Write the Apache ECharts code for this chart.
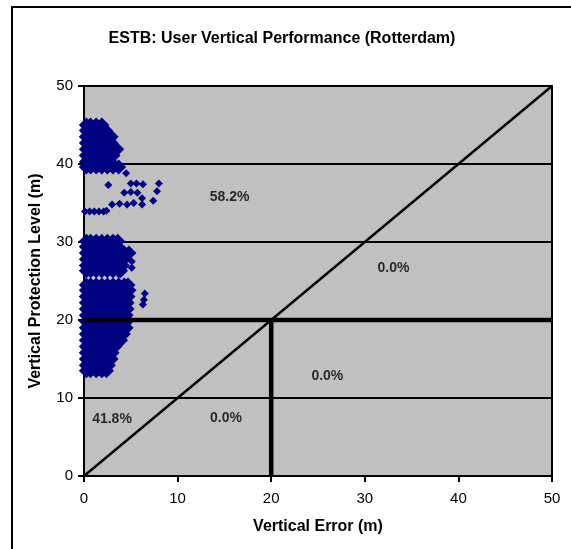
<!DOCTYPE html>
<html>
<head>
<meta charset="utf-8">
<script src="https://cdn.jsdelivr.net/npm/echarts@6/dist/echarts.min.js"></script>
<style>
html,body{margin:0;padding:0;background:#fff;}
#chart{width:571px;height:549px;}
</style>
</head>
<body>
<div id="chart"></div>
<script>
// Axis ticks
const xTicks = [0, 10, 20, 30, 40, 50];
const yTicks = [0, 10, 20, 30, 40, 50];

// Dense point clouds: [VPL (m), [vertical errors (m)]]
const topCluster = [
  [45.0, [0.25, 0.7, 1.3, 1.9]],
  [44.3, [0.25, 0.7, 1.3, 1.9, 2.3]],
  [43.5, [0.25, 0.7, 1.3, 1.9, 2.5, 2.9]],
  [42.7, [0.25, 0.7, 1.3, 1.9, 2.5, 2.9]],
  [41.9, [0.25, 0.7, 1.3, 1.9, 2.5, 3.1, 3.5]],
  [41.1, [0.25, 0.7, 1.3, 1.9, 2.5, 3.1]],
  [40.3, [0.25, 0.7, 1.3, 1.9, 2.5, 2.8]],
  [39.6, [0.25, 0.7, 1.3, 1.9, 2.5, 3.1, 3.7]]
];
const midCluster = [
  [30.1, [0.25, 0.7, 1.3, 1.9, 2.5, 3.1, 3.6]],
  [29.4, [0.25, 0.7, 1.3, 1.9, 2.5, 3.1, 3.6]],
  [28.6, [0.25, 0.7, 1.3, 1.9, 2.5, 3.1, 3.7, 4.3, 4.8]],
  [27.8, [0.25, 0.7, 1.3, 1.9, 2.5, 3.1, 3.7, 4.2]],
  [27.0, [0.25, 0.7, 1.3, 1.9, 2.5, 3.1, 3.7, 4.1]],
  [26.3, [0.25, 0.7, 1.3, 1.9, 2.5, 3.1, 3.7, 3.9]]
];
const lowCluster = [
  [24.5, [0.25, 0.7, 1.3, 1.9, 2.5, 3.1, 3.7, 4.3, 4.7]],
  [23.8, [0.25, 0.7, 1.3, 1.9, 2.5, 3.1, 3.7, 4.3, 4.8]],
  [23.0, [0.25, 0.7, 1.3, 1.9, 2.5, 3.1, 3.7, 4.3, 4.7]],
  [22.2, [0.25, 0.7, 1.3, 1.9, 2.5, 3.1, 3.7, 4.3, 4.6]],
  [21.4, [0.25, 0.7, 1.3, 1.9, 2.5, 3.1, 3.7, 4.3, 4.6]],
  [20.6, [0.25, 0.7, 1.3, 1.9, 2.5, 3.1, 3.7, 4.3, 4.5]],
  [19.8, [0.25, 0.7, 1.3, 1.9, 2.5, 3.1, 3.7, 4.3, 4.5]],
  [19.0, [0.25, 0.7, 1.3, 1.9, 2.5, 3.1, 3.7, 4.3, 4.5]],
  [18.2, [0.25, 0.7, 1.3, 1.9, 2.5, 3.1, 3.7, 4.2]],
  [17.4, [0.25, 0.7, 1.3, 1.9, 2.5, 3.1, 3.7, 3.9]],
  [16.6, [0.25, 0.7, 1.3, 1.9, 2.5, 3.1, 3.3]],
  [15.8, [0.25, 0.7, 1.3, 1.9, 2.5, 3.0]],
  [15.0, [0.25, 0.7, 1.3, 1.9, 2.5, 2.9]],
  [14.2, [0.25, 0.7, 1.3, 1.9, 2.5, 2.6]],
  [13.5, [0.25, 0.7, 1.3, 1.9, 2.4]]
];
// Sparse individual points [vertical error, VPL]
const sparsePoints = [
  [4.5, 38.8], [2.6, 37.3], [5.0, 37.5], [5.6, 37.5], [6.3, 37.4],
  [4.3, 36.3], [5.0, 36.4], [5.7, 36.3], [6.2, 35.6], [6.2, 34.8],
  [8.0, 37.5], [7.8, 36.5], [7.4, 35.3], [3.0, 34.8], [3.8, 34.9],
  [4.6, 34.8], [5.3, 35.0], [0.1, 33.9], [0.6, 33.9], [1.1, 33.9],
  [1.6, 33.9], [2.1, 33.9], [2.4, 34.0], [5.1, 27.5], [5.1, 26.7],
  [6.5, 23.4], [6.4, 22.6], [6.3, 22.0]
];

// Reference lines
const diagonalLine = [[0, 0], [50, 50]];
const alarmLimitH = [[0, 20], [50, 20]];
const alarmLimitV = [[20, 0], [20, 20]];

// Region percentages
const pctText = ['58.2%', '0.0%', '0.0%', '0.0%', '41.8%'];
const pctX = [15.55, 33.07, 26.0, 15.17, 2.99];
const pctY = [35.77, 26.67, 12.76, 7.37, 7.31];

const FONT = "'Liberation Sans', Arial, Helvetica, sans-serif";

function flatten(rows) {
  const out = [];
  rows.forEach(function (r) { r[1].forEach(function (x) { out.push([x, r[0]]); }); });
  return out;
}
const densePoints = flatten(topCluster).concat(flatten(midCluster), flatten(lowCluster));
const pctData = pctText.map(function (t, i) { return { name: t, value: [pctX[i], pctY[i]] }; });

const chart = echarts.init(document.getElementById('chart'), null, { renderer: 'canvas' });
chart.setOption({
  animation: false,
  backgroundColor: '#ffffff',
  title: {
    text: 'ESTB: User Vertical Performance (Rotterdam)',
    left: 282, top: 31, padding: 0, textAlign: 'center',
    textStyle: { fontFamily: FONT, fontSize: 16, fontWeight: 'bold', color: '#000' }
  },
  graphic: [{
    type: 'rect', silent: true, z: -10,
    shape: { x: 12, y: 7, width: 700, height: 700 },
    style: { fill: 'none', stroke: '#000', lineWidth: 2 }
  }],
  grid: {
    left: 84, top: 86, width: 468, height: 390,
    show: true, backgroundColor: '#C0C0C0', borderColor: '#000', borderWidth: 2
  },
  xAxis: {
    type: 'value', min: xTicks[0], max: xTicks[xTicks.length - 1], interval: 10,
    name: 'Vertical Error (m)', nameLocation: 'middle', nameGap: 43,
    nameTextStyle: { fontFamily: FONT, fontSize: 16, fontWeight: 'bold', color: '#000' },
    axisLine: { show: true, onZero: false, lineStyle: { color: '#000', width: 2 } },
    axisTick: { show: true, length: 6, lineStyle: { color: '#000', width: 2 } },
    axisLabel: { fontFamily: FONT, fontSize: 15, color: '#000', margin: 15 },
    splitLine: { show: false }
  },
  yAxis: {
    type: 'value', min: yTicks[0], max: yTicks[yTicks.length - 1], interval: 10,
    name: 'Vertical Protection Level (m)', nameLocation: 'middle', nameGap: 40,
    nameTextStyle: { fontFamily: FONT, fontSize: 16, fontWeight: 'bold', color: '#000' },
    axisLine: { show: true, onZero: false, lineStyle: { color: '#000', width: 2 } },
    axisTick: { show: true, length: 6, lineStyle: { color: '#000', width: 2 } },
    axisLabel: { fontFamily: FONT, fontSize: 15, color: '#000', margin: 11 },
    splitLine: { show: true, lineStyle: { color: '#000', width: 2 } }
  },
  series: [
    {
      type: 'scatter', data: densePoints, symbol: 'diamond', symbolSize: 15,
      itemStyle: { color: '#000080', opacity: 1 }, silent: true, z: 3, clip: false
    },
    {
      type: 'scatter', data: sparsePoints, symbol: 'diamond', symbolSize: 8,
      itemStyle: { color: '#000080', opacity: 1 }, silent: true, z: 3, clip: false
    },
    {
      type: 'line', data: diagonalLine, symbol: 'none', silent: true, z: 4,
      lineStyle: { color: '#000', width: 2.5 }
    },
    {
      type: 'line', data: alarmLimitH, symbol: 'none', silent: true, z: 5,
      lineStyle: { color: '#000', width: 4.5 }
    },
    {
      type: 'line', data: alarmLimitV, symbol: 'none', silent: true, z: 5,
      lineStyle: { color: '#000', width: 4.5 }
    },
    {
      type: 'scatter', data: pctData, symbol: 'circle', symbolSize: 1, silent: true, z: 6,
      itemStyle: { color: 'rgba(0,0,0,0)' },
      label: {
        show: true, position: 'inside', formatter: '{b}',
        fontFamily: FONT, fontSize: 14, fontWeight: 'bold', color: '#000'
      }
    }
  ]
});
</script>
</body>
</html>
